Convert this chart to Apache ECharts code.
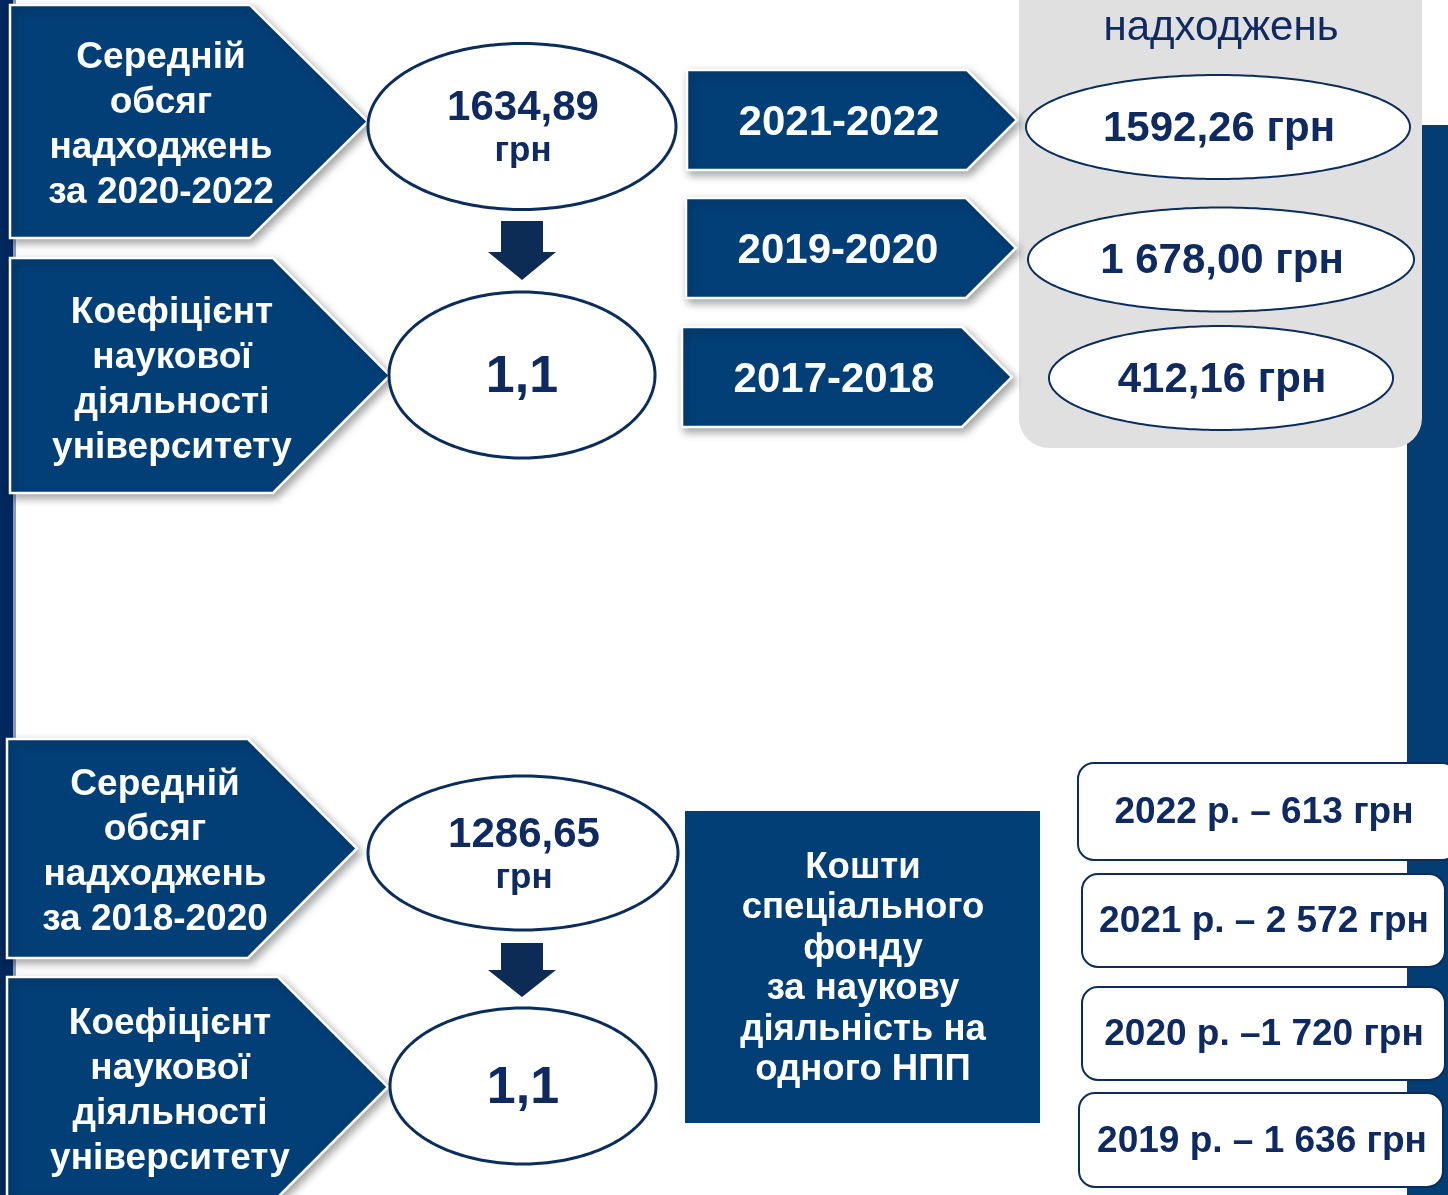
<!DOCTYPE html>
<html>
<head>
<meta charset="utf-8">
<script src="https://cdn.jsdelivr.net/npm/echarts@6/dist/echarts.min.js"></script>
<style>
html,body{margin:0;padding:0;background:#fff;}
#chart{width:1448px;height:1195px;}
</style>
</head>
<body>
<div id="chart"></div>
<script>
// ---- data ----
const leftLabels = [
  ['Середній', 'обсяг', 'надходжень', 'за 2020-2022'],
  ['Коефіцієнт', 'наукової', 'діяльності', 'університету'],
  ['Середній', 'обсяг', 'надходжень', 'за 2018-2020'],
  ['Коефіцієнт', 'наукової', 'діяльності', 'університету']
];
const avgValues = ['1634,89', '1286,65'];
const avgUnit = 'грн';
const coefValues = ['1,1', '1,1'];
const periods = ['2021-2022', '2019-2020', '2017-2018'];
const periodValues = ['1592,26 грн', '1 678,00 грн', '412,16 грн'];
const panelTitle = ['Середній обсяг', 'надходжень'];
const fundLabel = ['Кошти', 'спеціального', 'фонду', 'за наукову', 'діяльність на', 'одного НПП'];
const fundYears = ['2022 р. – 613 грн', '2021 р. – 2 572 грн', '2020 р. –1 720 грн', '2019 р. – 1 636 грн'];

// ---- style / layout ----
const NAVY = '#033f77';
const DARK = '#00285d';
const ARROW = '#0d2c55';
const TXT = '#0e2a61';
const FONT = '"Liberation Sans", Arial, sans-serif';

const chart = echarts.init(document.getElementById('chart'));
const g = [];

function pent(x0, y0, xb, xt, y1) {
  const yc = (y0 + y1) / 2;
  return {
    type: 'polygon',
    shape: { points: [[x0, y0], [xb, y0], [xt, yc], [xb, y1], [x0, y1]] },
    style: { fill: NAVY, stroke: '#ffffff', lineWidth: 2.5,
             shadowBlur: 8, shadowOffsetX: 3, shadowOffsetY: 4, shadowColor: 'rgba(0,0,0,0.35)' }
  };
}
function ell(cx, cy, rx, ry, lw) {
  const pts = [];
  for (let i = 0; i < 240; i++) {
    const a = i / 240 * Math.PI * 2;
    pts.push([cx + rx * Math.cos(a), cy + ry * Math.sin(a)]);
  }
  return { type: 'polygon', shape: { points: pts },
           style: { fill: '#ffffff', stroke: '#0b2d5c', lineWidth: lw || 2.5 } };
}
function txt(x, y, lines, size, color, weight, lh) {
  return { type: 'text', style: {
    text: Array.isArray(lines) ? lines.join('\n') : lines,
    x: x, y: y, fill: color, textAlign: 'center', textVerticalAlign: 'middle',
    font: (weight || 'bold') + ' ' + size + 'px ' + FONT, lineHeight: lh || size * 1.2 } };
}
function arrow(cx, top, headY, tipY) {
  return { type: 'polygon', shape: { points: [
    [cx - 21, top], [cx + 21, top], [cx + 21, headY], [cx + 34, headY],
    [cx, tipY], [cx - 34, headY], [cx - 21, headY]] },
    style: { fill: ARROW } };
}

// side bands
g.push({ type: 'rect', shape: { x: 0, y: 0, width: 13, height: 1195 }, style: { fill: DARK } });
g.push({ type: 'rect', shape: { x: 13, y: 0, width: 3, height: 1195 }, style: { fill: '#8a9bb5' } });
g.push({ type: 'rect', shape: { x: 1407, y: 125, width: 41, height: 1070 }, style: { fill: '#043d74' } });

// gray panel
g.push({ type: 'rect', shape: { x: 1019, y: -60, width: 403, height: 508, r: 30 }, style: { fill: '#e0e0e0' } });
g.push(txt(1221, -23, panelTitle[0], 42, TXT, 'normal'));
g.push(txt(1221, 28, panelTitle[1], 42, TXT, 'normal'));

// left pentagons
const leftGeo = [
  [10, 5, 250, 368, 238, 161],
  [10, 258, 273, 390, 493, 172],
  [7, 739, 248, 357, 958, 155],
  [7, 977, 278, 388, 1197, 170]
];
const leftTextY = [125, 380.5, 852, 1091];
leftGeo.forEach((p, i) => {
  g.push(pent(p[0], p[1], p[2], p[3], p[4]));
  g.push(txt(p[5], leftTextY[i], leftLabels[i], 37, '#ffffff', 'bold', 45));
});

// ellipses with values
const avgGeo = [[522, 126.5, 154, 83], [523, 853, 155, 77]];
const coefGeo = [[522, 375, 133, 83], [523, 1086, 133, 78]];
avgValues.forEach((v, i) => {
  const e = avgGeo[i];
  g.push(ell(e[0], e[1], e[2], e[3], 3));
  g.push(txt(e[0] + 1, e[1] - 18, v, 42, TXT));
  g.push(txt(e[0] + 1, e[1] + 25, avgUnit, 35, TXT));
});
coefValues.forEach((v, i) => {
  const e = coefGeo[i];
  g.push(ell(e[0], e[1], e[2], e[3], 3));
  g.push(txt(e[0], e[1] + 3, v, 52, TXT));
});
g.push(arrow(522, 221, 252, 280));
g.push(arrow(522, 943, 970, 997));

// period pentagons & gray ellipses
const perGeo = [
  [687, 70, 967, 1017, 170],
  [686, 198, 966, 1016, 298],
  [682, 327, 962, 1012, 427]
];
const perValGeo = [[1218, 127, 192, 52], [1221, 259.5, 193, 52], [1221, 378, 172, 52]];
periods.forEach((p, i) => {
  const q = perGeo[i];
  g.push(pent(q[0], q[1], q[2], q[3], q[4]));
  g.push(txt(q[0] + 152, (q[1] + q[4]) / 2 + 3, p, 42, '#ffffff'));
  const e = perValGeo[i];
  g.push(ell(e[0], e[1], e[2], e[3], 2));
  g.push(txt(e[0] + 1, e[1] + 2, periodValues[i], 42, TXT));
});

// fund box
g.push({ type: 'rect', shape: { x: 685, y: 811, width: 355, height: 312 }, style: { fill: NAVY } });
g.push(txt(863, 969, fundLabel, 36.5, '#ffffff', 'bold', 40.4));

// year boxes
const boxGeo = [
  [1078, 763, 380, 97, 1264],
  [1082, 874, 363, 93, 1264],
  [1082, 987, 363, 93, 1264],
  [1079, 1093, 364, 94, 1262]
];
fundYears.forEach((t, i) => {
  const b = boxGeo[i];
  g.push({ type: 'rect', shape: { x: b[0], y: b[1], width: b[2], height: b[3], r: 16 },
           style: { fill: '#ffffff', stroke: '#0b2d5c', lineWidth: 2 } });
  g.push(txt(b[4], b[1] + b[3] / 2 + 1.5, t, 37, TXT));
});

chart.setOption({ backgroundColor: '#ffffff', animation: false, graphic: { elements: g } });
</script>
</body>
</html>
